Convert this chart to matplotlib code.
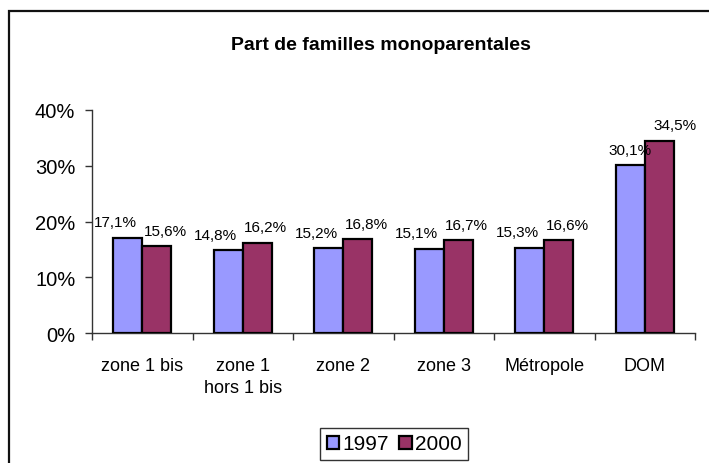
import matplotlib
matplotlib.use("Agg")
import matplotlib.pyplot as plt
import matplotlib.patches as mpatches
import numpy as np

# data
categories = ["zone 1 bis", "zone 1\nhors 1 bis", "zone 2", "zone 3", "Métropole", "DOM"]
values_1997 = [17.1, 14.8, 15.2, 15.1, 15.3, 30.1]
values_2000 = [15.6, 16.2, 16.8, 16.7, 16.6, 34.5]
series_names = ["1997", "2000"]

plt.rcParams['font.family'] = ['Liberation Sans', 'DejaVu Sans']

W, H = 709, 464
fig = plt.figure(figsize=(W / 100, H / 100), dpi=100)
fig.patch.set_facecolor("white")

# outer chart frame (runs off the right and bottom edges)
frame = mpatches.Rectangle((8.5 / W, -0.05), 1.2, (H - 11.5) / H + 0.05,
                           transform=fig.transFigure, fill=False,
                           edgecolor="#111111", linewidth=1.6)
fig.patches.append(frame)

ax = fig.add_axes([92 / W, (H - 334) / H, (695 - 92) / W, (334 - 111) / H])

x = np.arange(len(categories))
bw = 0.29
b1 = ax.bar(x - bw / 2, values_1997, bw, color="#9999FF", edgecolor="black", linewidth=1.6,
            label=series_names[0], zorder=3)
b2 = ax.bar(x + bw / 2, values_2000, bw, color="#993366", edgecolor="black", linewidth=1.6,
            label=series_names[1], zorder=3)

def fmt(v):
    return f"{v:.1f}".replace(".", ",") + "%"

# value labels, nudged sideways like the original
for i, v in enumerate(values_1997):
    dx = 0 if i == len(categories) - 1 else -9
    ax.annotate(fmt(v), (x[i] - bw / 2, v), xytext=(dx, 6), textcoords="offset points",
                ha="center", va="bottom", fontsize=11, zorder=4)
for i, v in enumerate(values_2000):
    dx = 11 if i == len(categories) - 1 else 6
    ax.annotate(fmt(v), (x[i] + bw / 2, v), xytext=(dx, 6), textcoords="offset points",
                ha="center", va="bottom", fontsize=11, zorder=4)

ax.set_xlim(-0.5, len(categories) - 0.5)
ax.set_ylim(0, 40)
ax.set_yticks([0, 10, 20, 30, 40])
ax.set_yticklabels([f"{t}%" for t in [0, 10, 20, 30, 40]], fontsize=14.5)
ax.tick_params(axis="y", length=5, width=1, pad=7, color="#333333")

ax.set_xticks(x)
ax.set_xticklabels(categories, fontsize=13, linespacing=1.4, va="top")
ax.tick_params(axis="x", which="major", length=0, pad=17)
ax.set_xticks(np.arange(-0.5, len(categories)), minor=True)
ax.tick_params(axis="x", which="minor", length=5, width=1, color="#333333")

for s in ["top", "right"]:
    ax.spines[s].set_visible(False)
for s in ["left", "bottom"]:
    ax.spines[s].set_color("#333333")
    ax.spines[s].set_linewidth(1)

fig.text(381 / W, 1 - 46 / H, "Part de familles monoparentales", ha="center", va="center",
         fontsize=14, fontweight="bold")

leg = fig.legend(handles=[b1, b2], loc="center", bbox_to_anchor=(394 / W, 1 - 445 / H),
                 ncol=2, fontsize=15, frameon=True, fancybox=False, edgecolor="black",
                 handlelength=0.6, handleheight=0.6, handletextpad=0.15, columnspacing=0.5,
                 borderpad=0.3, borderaxespad=0)
leg.get_frame().set_linewidth(1)

fig.savefig("out.png", dpi=100)
